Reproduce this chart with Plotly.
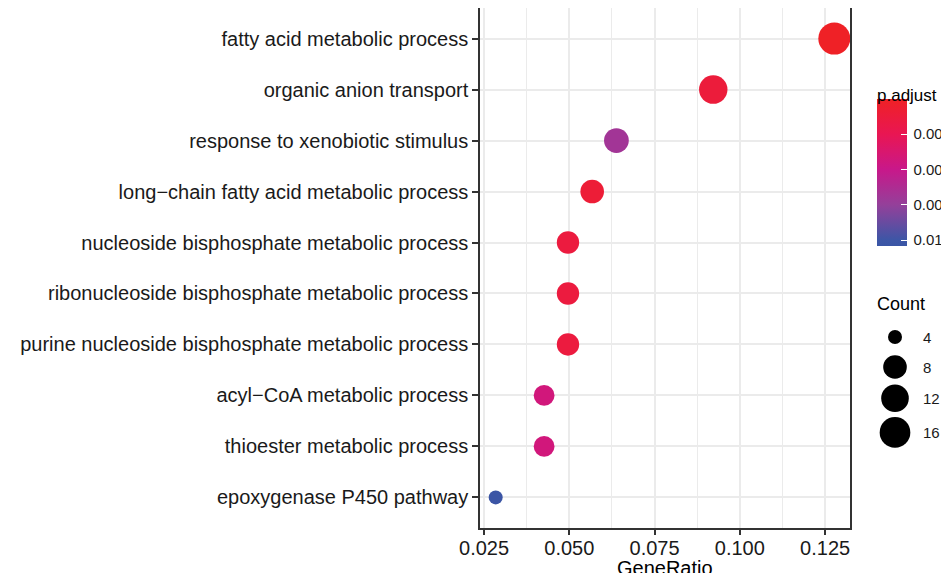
import plotly.graph_objects as go

# ---------------- data ----------------
terms = [
    "fatty acid metabolic process",
    "organic anion transport",
    "response to xenobiotic stimulus",
    "long\u2212chain fatty acid metabolic process",
    "nucleoside bisphosphate metabolic process",
    "ribonucleoside bisphosphate metabolic process",
    "purine nucleoside bisphosphate metabolic process",
    "acyl\u2212CoA metabolic process",
    "thioester metabolic process",
    "epoxygenase P450 pathway",
]
gene_ratio = [0.1277, 0.0922, 0.0638, 0.0567, 0.0496, 0.0496, 0.0496, 0.0426, 0.0426, 0.0284]
counts = [18, 13, 9, 8, 7, 7, 7, 6, 6, 4]
p_adjust = [0.00005, 0.0012, 0.0068, 0.0010, 0.0014, 0.0014, 0.0014, 0.0043, 0.0043, 0.0103]

x_ticks = [0.025, 0.050, 0.075, 0.100, 0.125]
x_tick_labels = ["0.025", "0.050", "0.075", "0.100", "0.125"]
cb_ticks = [0.0025, 0.0050, 0.0075, 0.0100]
cb_tick_labels = ["0.0025", "0.0050", "0.0075", "0.0100"]
legend_counts = [4, 8, 12, 16]

# ---------------- styling ----------------
FONT = "Liberation Sans, Arial, Helvetica, sans-serif"
OFF = 8  # page body margin
W, H = 949, 573 - OFF


def sx(px):  # screen x -> figure x
    return px - OFF


def sy(py):  # screen y -> figure y
    return py - OFF


ML, MR, MT, MB = sx(480), 0, sy(8), H - sy(528)
PW = W - ML - MR
PH = H - MT - MB
main_right = sx(850)
main_dom = (0, (main_right - ML) / PW)
leg_dom = ((sx(855) - ML) / PW, 1.0)

SMIN, SMAX = 14.0, 32.0
cmin_count, cmax_count = min(counts), max(counts)


def dot_size(c):
    t = (c - cmin_count) / (cmax_count - cmin_count)
    t = max(0.0, t)
    return SMIN + (SMAX - SMIN) * t ** 0.5


# colours listed from high p (blue) to low p (red); colour value is -p so red sits on top
colorscale = [
    [0.00, "#3A55A5"],
    [0.04, "#3D56A6"],
    [0.28, "#94409A"],
    [0.52, "#C8188A"],
    [0.76, "#E91653"],
    [1.00, "#EF2125"],
]
PMIN, PMAX = 0.0, 0.0104

n = len(terms)
ypos = [n - 1 - i for i in range(n)]

fig = go.Figure()

fig.add_trace(go.Scatter(
    x=gene_ratio, y=ypos, mode="markers",
    marker=dict(
        size=[dot_size(c) for c in counts], sizemode="diameter",
        color=[-p for p in p_adjust], colorscale=colorscale, cmin=-PMAX, cmax=-PMIN,
        line=dict(width=0), opacity=1,
        colorbar=dict(
            xref="container", yref="container",
            x=sx(877) / W, xanchor="left",
            y=1 - sy((113 + 260) / 2) / H, yanchor="middle",
            len=147, lenmode="pixels", thickness=30,
            outlinewidth=0, xpad=0, ypad=0,
            tickvals=[-v for v in cb_ticks], ticktext=["\u2009" + t for t in cb_tick_labels],
            ticks="inside", ticklen=6, tickcolor="white", tickwidth=1,
            tickfont=dict(family=FONT, size=15, color="#1a1a1a"),
        ),
    ),
    showlegend=False, hoverinfo="skip",
))

# size legend
leg_sizes = [dot_size(c) for c in legend_counts]
key_h = [max(s + 5, 30) for s in leg_sizes]
leg_y = []
cur = 322
for h in key_h:
    leg_y.append(cur + h / 2)
    cur += h
fig.add_trace(go.Scatter(
    x=[895] * len(legend_counts), y=leg_y, mode="markers",
    marker=dict(size=leg_sizes, sizemode="diameter", color="#000000", line=dict(width=0), opacity=1),
    xaxis="x2", yaxis="y2", showlegend=False, hoverinfo="skip", cliponaxis=False,
))
for c, yy in zip(legend_counts, leg_y):
    fig.add_annotation(x=921, y=yy, xref="x2", yref="y2", text=str(c), showarrow=False,
                       xanchor="left", yanchor="middle",
                       font=dict(family=FONT, size=15, color="#1a1a1a"))

fig.add_annotation(x=875, y=304, xref="x2", yref="y2", text="Count", showarrow=False,
                   xanchor="left", yanchor="middle", font=dict(family=FONT, size=18, color="black"))
fig.add_annotation(x=875, y=95, xref="x2", yref="y2", text="p.adjust", showarrow=False,
                   xanchor="left", yanchor="middle", font=dict(family=FONT, size=17, color="black"))
fig.add_annotation(x=main_dom[1] / 2, y=(sy(528) - sy(568)) / PH, xref="paper", yref="paper",
                   text="GeneRatio", showarrow=False, xanchor="center", yanchor="middle",
                   font=dict(family=FONT, size=20, color="black"))

fig.update_layout(
    width=W, height=H,
    margin=dict(l=ML, r=MR, t=MT, b=MB, autoexpand=False),
    paper_bgcolor="white", plot_bgcolor="white",
    font=dict(family=FONT, color="#1a1a1a"),
    xaxis=dict(
        domain=main_dom, range=[0.0238, 0.1323],
        tickvals=x_ticks, ticktext=x_tick_labels,
        ticks="outside", ticklen=5, tickwidth=1.5, tickcolor="#333333",
        ticklabelstandoff=-4,
        tickfont=dict(family=FONT, size=20, color="#1a1a1a"),
        showgrid=True, gridcolor="#EBEBEB", gridwidth=2,
        minor=dict(dtick=0.0125, tick0=0.0125, showgrid=True, gridcolor="#EBEBEB", gridwidth=1, ticks=""),
        showline=True, linecolor="#333333", linewidth=1.5, mirror=True,
        zeroline=False, automargin=False, fixedrange=True,
    ),
    yaxis=dict(
        range=[-0.6, n - 0.4],
        tickvals=ypos, ticktext=terms,
        ticks="outside", ticklen=6, tickwidth=1.5, tickcolor="#333333",
        tickfont=dict(family=FONT, size=20, color="#1a1a1a"),
        showgrid=True, gridcolor="#EBEBEB", gridwidth=2,
        showline=True, linecolor="#333333", linewidth=1.5, mirror=True,
        zeroline=False, automargin=False, fixedrange=True,
    ),
    # helper axes in screen-pixel units for the legend area
    xaxis2=dict(domain=leg_dom, range=[855, W + OFF], visible=False, fixedrange=True),
    yaxis2=dict(domain=[0, 1], range=[528, 8], visible=False, fixedrange=True, anchor="x2"),
)

fig.write_html("out.html")
